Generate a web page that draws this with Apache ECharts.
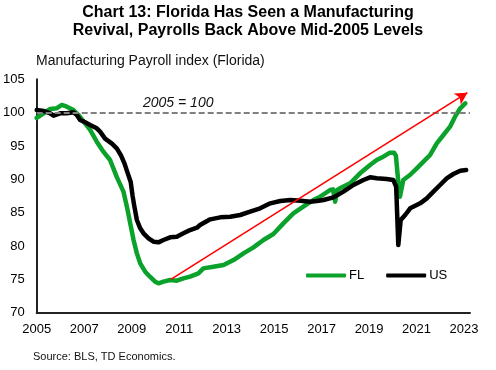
<!DOCTYPE html>
<html><head><meta charset="utf-8">
<script src="https://cdn.jsdelivr.net/npm/echarts@6/dist/echarts.min.js"></script>
<style>html,body{margin:0;padding:0;background:#fff}#c{width:496px;height:370px}</style>
</head><body><div id="c"></div>
<script>
const titleText = 'Chart 13: Florida Has Seen a Manufacturing\nRevival, Payrolls Back Above Mid-2005 Levels';
const subtitleText = 'Manufacturing Payroll index (Florida)';
const sourceText = 'Source: BLS, TD Economics.';
const baseLabel = '2005 = 100';
const baseLevel = 100;
const seriesNames = ['FL', 'US'];

const flYears = [2005.0,2005.29,2005.57,2005.85,2006.06,2006.27,2006.55,2006.76,2007.04,2007.25,2007.53,2007.81,2008.09,2008.38,2008.65,2008.80,2008.94,2009.08,2009.22,2009.36,2009.57,2009.77,2009.99,2010.13,2010.34,2010.62,2010.90,2011.18,2011.46,2011.81,2012.02,2012.44,2012.87,2013.29,2013.71,2014.13,2014.55,2014.97,2015.39,2015.81,2016.23,2016.65,2016.94,2017.36,2017.48,2017.57,2017.66,2017.77,2018.20,2018.62,2019.04,2019.32,2019.60,2019.88,2020.05,2020.13,2020.22,2020.30,2020.44,2020.72,2021.01,2021.29,2021.57,2021.85,2022.13,2022.41,2022.62,2022.84,2023.05];
const flValues = [99.2,99.9,100.55,100.66,101.15,100.9,100.4,99.65,98.4,97.4,95.65,94.15,92.9,90.3,88.2,85.9,83.4,80.9,78.9,77.4,76.15,75.4,74.65,74.4,74.65,74.9,74.8,75.15,75.4,75.9,76.65,76.9,77.15,77.9,78.9,79.8,80.9,81.8,83.4,84.9,85.9,86.9,87.4,88.4,88.5,86.65,88.4,88.65,89.4,90.9,92.15,92.9,93.4,94.0,94.0,93.5,90.0,87.4,89.9,90.65,91.65,92.65,93.65,95.4,96.65,97.9,99.4,100.65,101.4];

const usYears = [2005.0,2005.29,2005.57,2005.71,2005.99,2006.27,2006.55,2006.69,2006.83,2007.04,2007.25,2007.53,2007.67,2007.88,2008.17,2008.38,2008.55,2008.70,2008.84,2008.96,2009.04,2009.11,2009.22,2009.36,2009.50,2009.71,2009.92,2010.13,2010.34,2010.62,2010.90,2011.18,2011.46,2011.75,2011.88,2012.31,2012.73,2013.15,2013.57,2013.99,2014.41,2014.84,2015.26,2015.68,2016.11,2016.53,2016.88,2017.08,2017.50,2017.92,2018.34,2018.76,2019.04,2019.32,2019.74,2020.02,2020.14,2020.23,2020.33,2020.52,2020.73,2021.15,2021.43,2021.71,2021.99,2022.27,2022.55,2022.84,2023.09];
const usValues = [100.4,100.25,99.9,99.55,99.9,99.9,100.05,99.65,98.9,98.55,98.15,97.65,97.15,96.1,95.35,94.6,93.6,92.35,90.85,89.6,87.5,86.0,83.9,82.65,81.9,81.15,80.65,80.55,80.9,81.3,81.4,81.9,82.4,82.75,83.15,84.0,84.3,84.4,84.65,85.15,85.65,86.4,86.75,86.9,86.8,86.65,86.8,86.9,87.3,88.15,89.15,89.9,90.3,90.15,90.05,89.9,88.9,80.15,83.9,84.65,85.65,86.4,87.15,88.15,89.15,90.15,90.8,91.3,91.4];

const arrowStart = [2010.65, 75];
const arrowEnd = [2023.14, 103];

const FONT = '"Liberation Sans", Arial, sans-serif';
const chart = echarts.init(document.getElementById('c'), null, {renderer: 'canvas'});
const pair = (xs, ys) => xs.map((x, i) => [x, ys[i]]);

chart.setOption({
  animation: false,
  backgroundColor: '#fff',
  textStyle: {fontFamily: FONT},
  title: {
    text: titleText, left: 'center', top: 3.5, padding: 0,
    textStyle: {fontFamily: FONT, fontSize: 16, fontWeight: 'bold', color: '#000', lineHeight: 18}
  },
  graphic: [
    {type: 'text', left: 36, top: 54.5, style: {text: subtitleText, font: '14px ' + FONT, fill: '#111'}},
    {type: 'text', left: 33, top: 351, style: {text: sourceText, font: '11px ' + FONT, fill: '#111'}},
    {type: 'text', left: 143, top: 96.5, style: {text: baseLabel, font: 'italic 14px ' + FONT, fill: '#111'}}
  ],
  legend: {
    data: seriesNames, left: 306, top: 269, padding: 0, itemWidth: 40, itemHeight: 4, itemGap: 22,
    icon: 'roundRect',
    textStyle: {fontFamily: FONT, fontSize: 13, color: '#000', padding: [0, 0, 0, -2]}
  },
  grid: {left: 36, right: 26, top: 79.3, bottom: 57.3, containLabel: false},
  xAxis: {
    type: 'value', min: 2005, max: 2023.25, interval: 2,
    axisLine: {show: true, lineStyle: {color: '#222', width: 2}},
    axisTick: {show: false}, splitLine: {show: false},
    axisLabel: {fontFamily: FONT, fontSize: 13, color: '#000', margin: 10, showMaxLabel: false,
      formatter: v => String(Math.round(v))}
  },
  yAxis: {
    type: 'value', min: 70, max: 105, interval: 5,
    axisLine: {show: true, lineStyle: {color: '#222', width: 2}},
    axisTick: {show: false}, splitLine: {show: false},
    axisLabel: {fontFamily: FONT, fontSize: 13, color: '#000', margin: 12}
  },
  series: [
    {name: seriesNames[0], type: 'line', data: pair(flYears, flValues), showSymbol: false, symbol: 'none',
      lineStyle: {color: '#0aa22a', width: 4.5, cap: 'round', join: 'round'}, itemStyle: {color: '#0aa22a'}, z: 2},
    {name: seriesNames[1], type: 'line', data: pair(usYears, usValues), showSymbol: false, symbol: 'none',
      lineStyle: {color: '#000', width: 4.5, cap: 'round', join: 'round'}, itemStyle: {color: '#000'}, z: 3},
    {name: 'marks', type: 'line', data: [], z: 5, silent: true,
      markLine: {
        silent: true, animation: false, symbol: 'none',
        label: {show: false},
        data: [
          [{coord: [2005, baseLevel], lineStyle: {color: '#808080', width: 2, type: [6, 3]}}, {coord: [2023.25, baseLevel]}],
          [{coord: arrowStart, symbol: 'none', lineStyle: {color: '#ff0000', width: 1.6, type: 'solid'}},
           {coord: arrowEnd, symbol: 'arrow', symbolSize: [10, 12]}]
        ]
      }}
  ]
});
</script></body></html>
